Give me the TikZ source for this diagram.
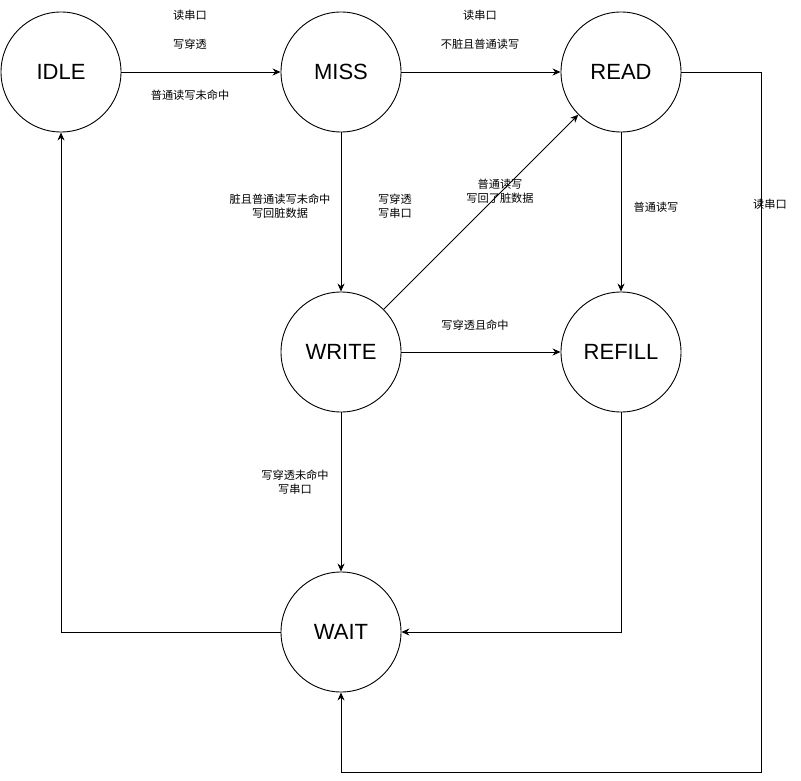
\documentclass[tikz,border=0pt]{standalone}
\usepackage{fontspec}
\setmainfont{Liberation Sans}
\newfontfamily\cjk{Noto Sans CJK SC}
\usetikzlibrary{arrows.meta}
\begin{document}
\begin{tikzpicture}[x=1pt,y=-1pt,
  state/.style={circle,draw,line width=0.9pt,minimum size=120pt,inner sep=0pt,font=\fontsize{22}{24}\selectfont},
  lbl/.style={font=\cjk\fontsize{11.2}{14}\selectfont,align=center,inner sep=1pt},
  arr/.style={draw,line width=0.9pt,-{Stealth[length=8pt,width=7pt]}}]
\useasboundingbox (0,0) rectangle (801,781);
\node[state] (idle) at (61,72) {IDLE};
\node[state] (miss) at (341,72) {MISS};
\node[state] (read) at (621,72) {READ};
\node[state] (write) at (341,352) {WRITE};
\node[state] (refill) at (621,352) {REFILL};
\node[state] (wait) at (341,632) {WAIT};
\coordinate (c1) at (761,72);
\coordinate (c2) at (761,772);
\coordinate (c3) at (341,772);
\coordinate (c4) at (621,632);
\coordinate (c5) at (61,632);
\path[arr] (idle) -- (miss);
\path[arr] (miss) -- (read);
\path[arr] (miss) -- (write);
\path[arr] (write) -- (read);
\path[arr] (write) -- (refill);
\path[arr] (read) -- (refill);
\path[arr] (write) -- (wait);
\path[arr] (read.east) -- (c1) -- (c2) -- (c3) -- (wait.south);
\path[arr] (refill.south) -- (c4) -- (wait.east);
\path[arr] (wait.west) -- (c5) -- (idle.south);
\node[lbl] (l1) at (190,15) {读串口};
\node[lbl] (l2) at (190,44) {写穿透};
\node[lbl] (l3) at (190,95) {普通读写未命中};
\node[lbl] (l4) at (480,15) {读串口};
\node[lbl] (l5) at (480,44) {不脏且普通读写};
\node[lbl] (l6) at (280,206) {脏且普通读写未命中\\写回脏数据};
\node[lbl] (l7) at (395,206) {写穿透\\写串口};
\node[lbl] (l8) at (500,191) {普通读写\\写回了脏数据};
\node[lbl] (l9) at (475,325) {写穿透且命中};
\node[lbl] (l10) at (656,207) {普通读写};
\node[lbl] (l11) at (770,204) {读串口};
\node[lbl] (l12) at (295,482) {写穿透未命中\\写串口};
\end{tikzpicture}
\end{document}
